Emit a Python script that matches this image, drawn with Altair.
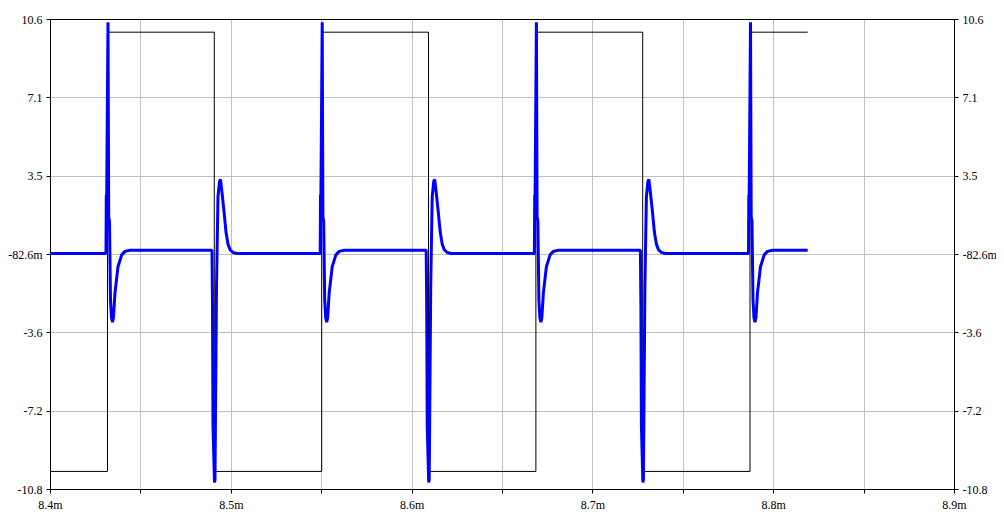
import altair as alt
import pandas as pd
import numpy as np

# ---- axes (time in ms, shown with an "m" suffix) ----
x_domain = [8.4, 8.9]
x_step = 0.05
y_domain = [-10.8, 10.6]
y_tick_labels = ["-10.8", "-7.2", "-3.6", "-82.6m", "3.5", "7.1", "10.6"]

# ---- black square drive ----
sq_t = [8.4, 8.4318, 8.49087, 8.55028, 8.60935, 8.66875, 8.72782, 8.78717, 8.81908]
sq_v = [-10, 10, -10, 10, -10, 10, -10, 10, 10]

# ---- blue response: edges and ringing shapes (offsets in microseconds, volts) ----
rise_edges = [8.4318, 8.55028, 8.66875, 8.78717]
fall_edges = [8.49087, 8.60935, 8.72782]
rise_dt = [-0.83, -0.66, -0.44, 0.28, 0.66, 1.1, 1.66, 2.2, 2.76, 3.3, 4.15, 5.8, 7.85, 9.67, 12.4]
rise_v = [-0.08, 2.6, 2.6, 10.45, 1.6, 1.4, -2.2, -3.0, -3.2, -3.0, -1.86, -0.68, -0.14, 0.02, 0.07]
fall_dt = [-1.27, -0.99, -0.72, 0.11, 0.39, 0.66, 1.22, 2.04, 2.87, 3.43, 4.26, 5.36, 6.47, 7.57, 8.68, 10.34, 12.55]
fall_v = [0.07, -2.5, -7.9, -10.5, -10.4, -7.5, -1.6, 2.5, 3.2, 3.3, 2.7, 1.85, 0.9, 0.35, 0.1, -0.03, -0.08]
blue_start = (8.4, -0.08)
blue_end = (8.81908, 0.07)

# build tables
sq = pd.DataFrame({"t": sq_t, "v": sq_v, "i": range(len(sq_t))})

events = sorted([(e, "r") for e in rise_edges] + [(e, "f") for e in fall_edges])
bt, bv = [blue_start[0]], [blue_start[1]]
for e, kind in events:
    dts, vs = (rise_dt, rise_v) if kind == "r" else (fall_dt, fall_v)
    for dt, v in zip(dts, vs):
        bt.append(e + dt / 1000.0)
        bv.append(v)
bt.append(blue_end[0])
bv.append(blue_end[1])
blue = pd.DataFrame({"t": bt, "v": bv, "i": range(len(bt))})

x_ticks = [round(v, 2) for v in np.arange(x_domain[0], x_domain[1] + 1e-9, x_step)]
y_ticks = list(np.linspace(y_domain[0], y_domain[1], len(y_tick_labels)))

y_expr = ""
for val, lab in zip(y_ticks, y_tick_labels):
    y_expr += f"abs(datum.value - ({val:.6f})) < 0.01 ? '{lab}' : "
y_expr += "''"

x_expr = ("abs(datum.value*10 - round(datum.value*10)) < 0.001 ? "
          "format(datum.value, '.1f') + 'm' : ''")

grid_x_color = {"condition": {"test": f"datum.value <= {x_domain[0]+0.001} || datum.value >= {x_domain[1]-0.001}",
                              "value": "black"}, "value": "#c0c0c0"}
grid_y_color = {"condition": {"test": f"datum.value <= {y_domain[0]+0.01} || datum.value >= {y_domain[1]-0.01}",
                              "value": "black"}, "value": "#c0c0c0"}

FONT = "Liberation Serif, Times New Roman, serif"

xenc = alt.X("t:Q", scale=alt.Scale(domain=x_domain, nice=False, zero=False),
             axis=alt.Axis(values=x_ticks, labelExpr=x_expr, grid=True, gridColor=grid_x_color,
                           tickSize=4, labelPadding=6, title=None, labelFlush=False))
yscale = alt.Scale(domain=y_domain, nice=False, zero=False)

black = alt.Chart(sq).mark_line(color="black", strokeWidth=1, interpolate="step-after").encode(
    x=xenc,
    y=alt.Y("v:Q", scale=yscale,
            axis=alt.Axis(orient="left", values=y_ticks, labelExpr=y_expr, grid=True,
                          gridColor=grid_y_color, tickSize=4, labelPadding=4, title=None,
                          labelFlush=False)),
    order="i:Q",
)

blue_line = alt.Chart(blue).mark_line(color="#0000ff", strokeWidth=3, strokeJoin="bevel").encode(
    x=xenc,
    y=alt.Y("v:Q", scale=yscale,
            axis=alt.Axis(orient="right", values=y_ticks, labelExpr=y_expr, grid=False,
                          tickSize=4, labelPadding=4, title=None, labelFlush=False)),
    order="i:Q",
)

chart = alt.layer(black, blue_line).resolve_scale(y="independent").properties(
    width=904, height=470,
    autosize=alt.AutoSizeParams(type="none"),
    padding={"left": 42, "top": 11, "right": 42, "bottom": 24},
).configure_view(stroke="black", strokeWidth=1).configure_axis(
    labelFont=FONT, labelFontSize=12, labelColor="black",
    domainColor="black", tickColor="black", gridWidth=1,
)

chart.save("out.html", embed_options={"renderer": "svg", "actions": False})
